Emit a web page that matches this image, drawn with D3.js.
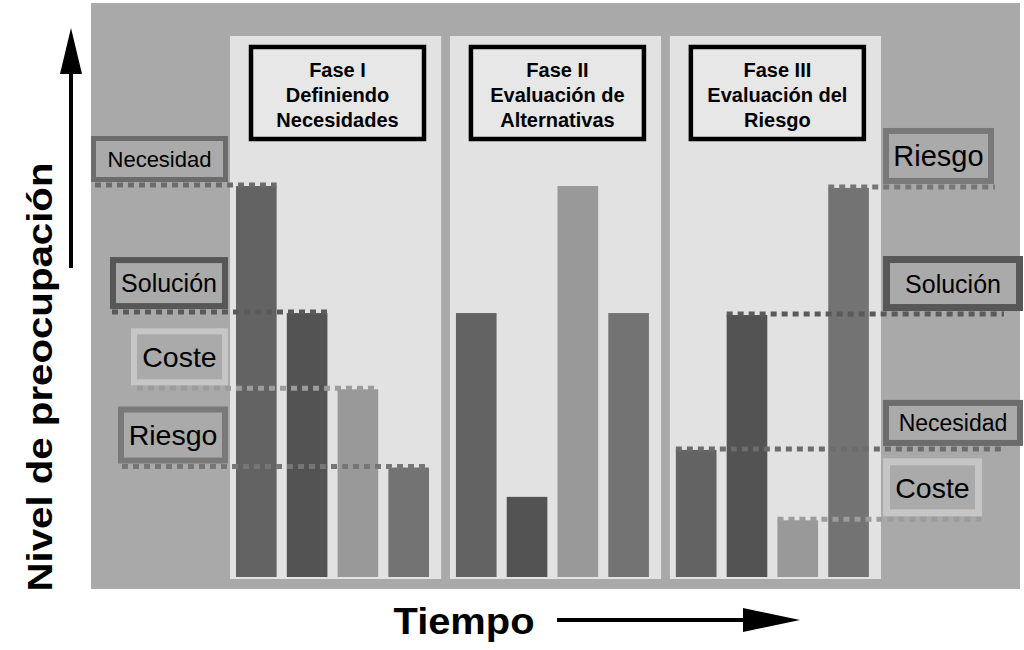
<!DOCTYPE html>
<html><head><meta charset="utf-8">
<script src="https://cdn.jsdelivr.net/npm/d3@7"></script>
<style>body{margin:0;background:#fff}svg{display:block}text{font-family:"Liberation Sans",Arial,Helvetica,sans-serif}</style>
</head><body>
<script>
// ---- data ----
const phases = ["Fase I", "Fase II", "Fase III"];
const phaseTitles = [
  ["Fase I", "Definiendo", "Necesidades"],
  ["Fase II", "Evaluación de", "Alternativas"],
  ["Fase III", "Evaluación del", "Riesgo"]
];
const categories = ["Necesidad", "Solución", "Coste", "Riesgo"];
const necesidad = [10, 6.75, 3.25];
const solucion  = [6.75, 2.05, 6.7];
const coste     = [4.8, 10, 1.45];
const riesgo    = [2.8, 6.75, 9.95];
const yAxisTitle = "Nivel de preocupación";
const xAxisTitle = "Tiempo";

const seriesByCat = {"Necesidad": necesidad, "Solución": solucion, "Coste": coste, "Riesgo": riesgo};

// ---- styles ----
const barColor = {"Necesidad":"#636363","Solución":"#535353","Coste":"#999999","Riesgo":"#737373"};
const borderColor = {"Necesidad":"#6c6c6c","Solución":"#575757","Coste":"#c6c6c6","Riesgo":"#797979"};
const lineColor = {"Necesidad":"#6c6c6c","Solución":"#5a5a5a","Coste":"#9c9c9c","Riesgo":"#767676"};

const W = 1024, H = 650;
const svg = d3.select("body").append("svg").attr("width", W).attr("height", H);

const x0 = d3.scaleBand().domain(phases).range([230, 881]).paddingInner(0.04);
const x1 = d3.scaleBand().domain(categories).range([6, 199]).paddingInner(0.2);
const y = d3.scaleLinear().domain([0, 10]).range([577, 186]);

// background
svg.append("rect").attr("x", 91).attr("y", 3).attr("width", 929).attr("height", 586).attr("fill", "#a9a9a9");

// panels
svg.selectAll("rect.panel").data(phases).join("rect").attr("class","panel")
  .attr("x", d => x0(d)).attr("y", 36).attr("width", x0.bandwidth()).attr("height", 543)
  .attr("fill", "#e2e2e2");

// phase title boxes
const tb = svg.selectAll("g.title").data(phases).join("g").attr("class","title")
  .attr("transform", d => `translate(${x0(d) + 21},47)`);
tb.append("rect").attr("width", 173).attr("height", 92).attr("fill", "#e7e7e7")
  .attr("stroke", "#000").attr("stroke-width", 4.5);
tb.each(function(d, i) {
  const g = d3.select(this);
  phaseTitles[i].forEach((t, k) => {
    g.append("text").attr("x", 86.5).attr("y", 30 + k * 25).attr("text-anchor", "middle")
      .attr("font-size", 20).attr("font-weight", "bold").attr("fill", "#000").text(t);
  });
});

// label boxes + dotted lines
// left side: tied to Fase I values; right side: tied to Fase III values
const leftLayout = {
  "Necesidad": {x: 91, w: 137, h: 46, fs: 22, bw: 5, lineStart: 95},
  "Solución":  {x: 110, w: 118, h: 52, fs: 25, bw: 6, lineStart: 112},
  "Coste":     {x: 131, w: 97, h: 57, fs: 28.5, bw: 6, lineStart: 137},
  "Riesgo":    {x: 118, w: 110, h: 57, fs: 28.5, bw: 6, lineStart: 122}
};
const rightLayout = {
  "Riesgo":    {x: 883, w: 111, h: 56, fs: 29, bw: 6, lineEnd: 995},
  "Solución":  {x: 883, w: 140, h: 55, fs: 25, bw: 7, lineEnd: 1004},
  "Necesidad": {x: 883, w: 140, h: 46, fs: 23, bw: 6, lineEnd: 1006},
  "Coste":     {x: 883, w: 99,  h: 58, fs: 28.5, bw: 7, lineEnd: 984}
};

function drawLabel(cat, L, lineY) {
  const top = lineY - 4 - L.h;
  svg.append("rect").attr("x", L.x + L.bw/2).attr("y", top + L.bw/2)
    .attr("width", L.w - L.bw).attr("height", L.h - L.bw)
    .attr("fill", "#aaaaaa").attr("stroke", borderColor[cat]).attr("stroke-width", L.bw);
  svg.append("text").attr("x", L.x + L.w/2).attr("y", top + L.h/2 + L.fs*0.36)
    .attr("text-anchor", "middle").attr("font-size", L.fs).attr("fill", "#000").text(cat);
}

const lines = [];
categories.forEach(cat => {
  const vL = seriesByCat[cat][0];
  const yl = y(vL);
  drawLabel(cat, leftLayout[cat], yl);
  lines.push({cat, y: yl, x1: leftLayout[cat].lineStart, x2: x0(phases[0]) + x1(cat) + x1.bandwidth()});
  const vR = seriesByCat[cat][2];
  const yr = y(vR);
  drawLabel(cat, rightLayout[cat], yr);
  lines.push({cat, y: yr, x1: x0(phases[2]) + x1(cat), x2: rightLayout[cat].lineEnd});
});

// bars
const pg = svg.selectAll("g.phase").data(phases).join("g").attr("class","phase")
  .attr("transform", d => `translate(${x0(d)},0)`);
pg.selectAll("rect").data((d, i) => categories.map(c => ({cat: c, v: seriesByCat[c][i]})))
  .join("rect")
  .attr("x", d => x1(d.cat)).attr("width", x1.bandwidth())
  .attr("y", d => y(d.v)).attr("height", d => y(0) - y(d.v))
  .attr("fill", d => barColor[d.cat]);

// dotted lines
svg.selectAll("line.dot").data(lines).join("line").attr("class","dot")
  .attr("x1", d => d.x1).attr("x2", d => d.x2).attr("y1", d => d.y - 1).attr("y2", d => d.y - 1)
  .attr("stroke", d => lineColor[d.cat]).attr("stroke-width", 5).attr("stroke-dasharray", "6,5");

// Y axis arrow and title
svg.append("rect").attr("x", 69).attr("y", 65).attr("width", 4).attr("height", 203).attr("fill", "#000");
svg.append("path").attr("d", "M71,28 L82,74 L60,74 Z").attr("fill", "#000");
svg.append("text").attr("transform", "translate(52,377) rotate(-90)").attr("text-anchor", "middle")
  .attr("font-size", 35).attr("font-weight", "bold").attr("fill", "#000")
  .attr("textLength", 429).attr("lengthAdjust", "spacingAndGlyphs").text(yAxisTitle);

// X axis arrow and title
svg.append("rect").attr("x", 557).attr("y", 618).attr("width", 192).attr("height", 4).attr("fill", "#000");
svg.append("path").attr("d", "M800,620 L743,608 L743,632 Z").attr("fill", "#000");
svg.append("text").attr("x", 464).attr("y", 634).attr("text-anchor", "middle")
  .attr("font-size", 36).attr("font-weight", "bold").attr("fill", "#000")
  .attr("textLength", 141).attr("lengthAdjust", "spacingAndGlyphs").text(xAxisTitle);
</script>
</body></html>
